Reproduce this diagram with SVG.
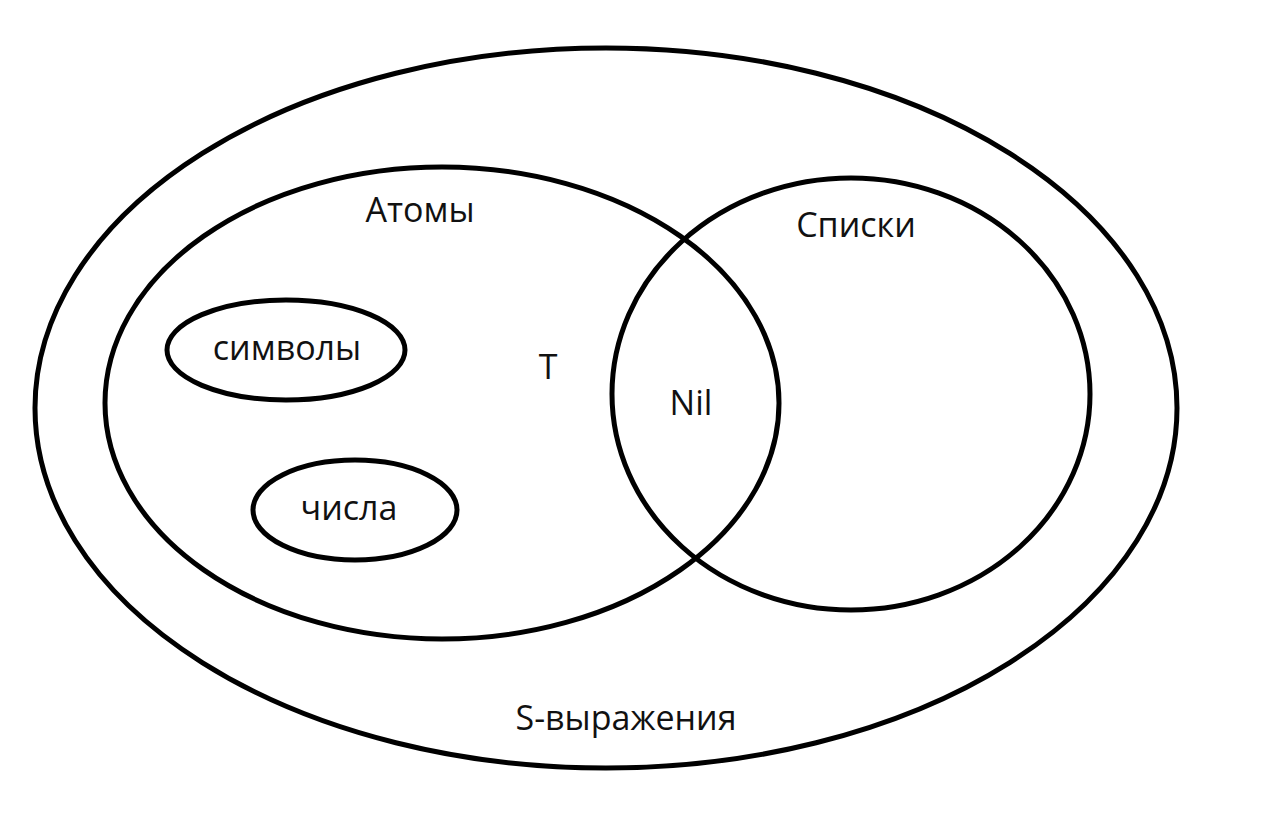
<svg xmlns="http://www.w3.org/2000/svg" width="1280" height="817" viewBox="0 0 1280 817">
<style>
.e{fill:none;stroke:#000;stroke-width:5}
.t{font-family:"Open Sans","Liberation Sans",sans-serif;font-size:34px;fill:#111;text-anchor:middle}
</style>
<rect width="1280" height="817" fill="#fff"/>
<g id="s-expr"><ellipse class="e" cx="606" cy="408" rx="571" ry="360"/><text class="t" x="626" y="730">S-выражения</text></g>
<g id="atoms"><ellipse class="e" cx="442" cy="403" rx="337" ry="236"/><text class="t" x="420" y="222">Атомы</text><text class="t" x="548" y="379">T</text></g>
<g id="lists"><ellipse class="e" cx="851" cy="394" rx="239" ry="216"/><text class="t" x="856" y="237">Списки</text></g>
<g id="nil"><text class="t" x="691" y="415">Nil</text></g>
<g id="symbols"><ellipse class="e" cx="286" cy="350" rx="119" ry="50"/><text class="t" x="287" y="360">символы</text></g>
<g id="numbers"><ellipse class="e" cx="355" cy="510" rx="102" ry="50"/><text class="t" x="349" y="520">числа</text></g>
<g id="connectors"/>
</svg>
